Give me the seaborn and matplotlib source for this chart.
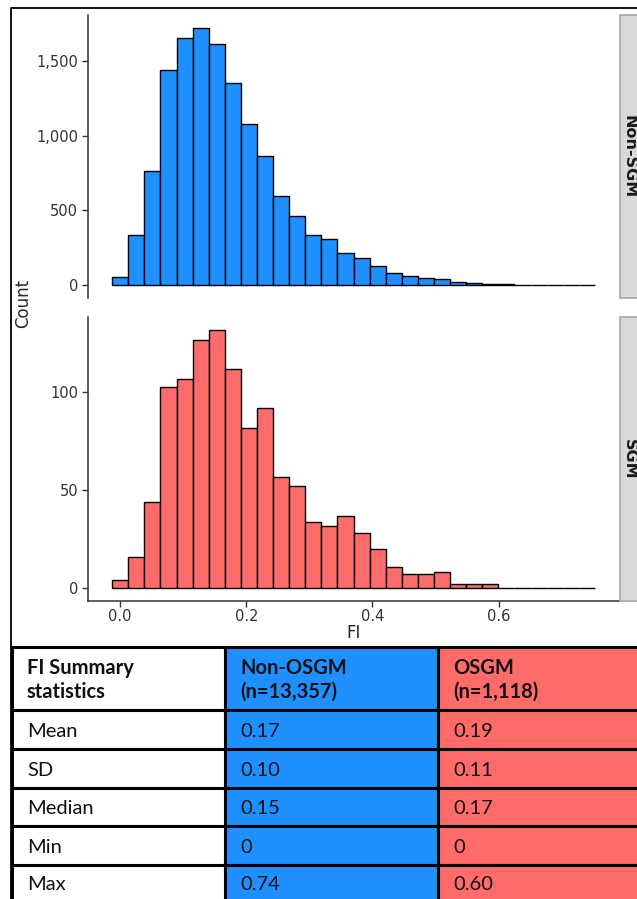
import matplotlib; matplotlib.use("Agg")
import matplotlib.pyplot as plt
from matplotlib.patches import Rectangle
import seaborn as sns
import pandas as pd
import numpy as np

# histogram counts per bin (30 bins, shared FI scale 0..0.74)
non_sgm_counts = [53, 336, 762, 1438, 1650, 1721, 1613, 1350, 1076, 862,
                  599, 462, 334, 309, 217, 179, 128, 82, 64, 51,
                  40, 18, 15, 9, 8, 4, 2, 2, 2, 1]
sgm_counts = [4, 16, 44, 103, 107, 127, 132, 112, 82, 92,
              57, 52, 34, 32, 37, 28, 20, 11, 7, 7,
              8, 2, 2, 2, 0, 0, 0, 0, 0, 0]
fi_max = 0.74
panel_labels = ["Non-SGM", "SGM"]
panel_colors = ["#1E90FF", "#FF6A6A"]
y_ticks = [[0, 500, 1000, 1500], [0, 50, 100]]
x_ticks = [0.0, 0.2, 0.4, 0.6]

# summary table
table_head = ["FI Summary\nstatistics", "Non-OSGM\n(n=13,357)", "OSGM\n(n=1,118)"]
stat_names = ["Mean", "SD", "Median", "Min", "Max"]
non_osgm_stats = ["0.17", "0.10", "0.15", "0", "0.74"]
osgm_stats = ["0.19", "0.11", "0.17", "0", "0.60"]

W, H = 637, 899
sns.set_style("white")
plt.rcParams["font.family"] = ["DejaVu Sans"]
fig = plt.figure(figsize=(W / 100, H / 100), dpi=100)

nb = len(non_sgm_counts)
bw = fi_max / (nb - 1)
centers = np.arange(nb) * bw
edges = np.append(centers - bw / 2, centers[-1] + bw / 2)

def px_axes(x0, y0, x1, y1):
    return fig.add_axes([x0 / W, 1 - y1 / H, (x1 - x0) / W, (y1 - y0) / H])

panels = [(15, 298), (317, 601)]
lo, hi = edges[0], edges[-1]
pad = (hi - lo) * 0.05
for i, counts in enumerate([non_sgm_counts, sgm_counts]):
    y0, y1 = panels[i]
    ax = px_axes(88, y0, 619, y1)
    df = pd.DataFrame({"FI": centers, "n": counts})
    sns.histplot(data=df, x="FI", weights="n", bins=edges.tolist(), color=panel_colors[i],
                 edgecolor="black", linewidth=1.0, alpha=1, ax=ax)
    m = max(counts)
    ax.set_ylim(-0.05 * m, 1.05 * m)
    ax.set_xlim(lo - pad, hi + pad)
    ax.set_yticks(y_ticks[i])
    ax.set_yticklabels([f"{v:,}" for v in y_ticks[i]], fontsize=10.5, color="#333333")
    ax.set_ylabel(""); ax.set_xlabel("")
    for s in ["top", "right"]:
        ax.spines[s].set_visible(False)
    ax.spines["left"].set_color("#333333")
    ax.spines["left"].set_linewidth(1.1)
    ax.tick_params(axis="y", length=4, width=1, color="#333333", left=True, pad=3)
    if i == 0:
        ax.spines["bottom"].set_visible(False)
        ax.set_xticks([])
    else:
        ax.spines["bottom"].set_color("#333333")
        ax.spines["bottom"].set_linewidth(1.1)
        ax.set_xticks(x_ticks)
        ax.set_xticklabels([f"{v:.1f}" for v in x_ticks], fontsize=10.5, color="#333333")
        ax.tick_params(axis="x", length=4, width=1, color="#333333", bottom=True, pad=2)
        ax.set_xlabel("FI", fontsize=12, labelpad=0)
    # facet strip on the right
    strip = Rectangle(((620) / W, 1 - y1 / H), 25 / W, (y1 - y0) / H,
                      transform=fig.transFigure, facecolor="#D9D9D9",
                      edgecolor="#A6A6A6", linewidth=1.2, clip_on=False)
    fig.add_artist(strip)
    fig.text(629.5 / W, 1 - (y0 + y1) / 2 / H, panel_labels[i], rotation=-90,
             ha="center", va="center", fontsize=11.5, fontweight="bold", color="#1a1a1a")

fig.text(23 / W, 1 - 303 / H, "Count", rotation=90, ha="center", va="center", fontsize=12)

# frame and table drawn in pixel space
tab = fig.add_axes([0, 0, 1, 1], facecolor="none")
tab.set_xlim(0, W); tab.set_ylim(H, 0); tab.axis("off")
tab.plot([11, 11, W + 5], [H + 5, 8, 8], color="black", lw=1.3, clip_on=False)

col_x = [12, 225, 438, W + 10]
row_y = [647, 710, 749, 788, 826, 865, H + 10]
fills = ["white", panel_colors[0], panel_colors[1]]
cols = [[table_head[0]] + stat_names, [table_head[1]] + non_osgm_stats,
        [table_head[2]] + osgm_stats]
for c in range(3):
    for r in range(len(row_y) - 1):
        tab.add_patch(Rectangle((col_x[c], row_y[r]), col_x[c + 1] - col_x[c],
                                row_y[r + 1] - row_y[r], facecolor=fills[c],
                                edgecolor="black", linewidth=2.2, clip_on=True))
        ty = (row_y[r] + row_y[r + 1]) / 2 + (1 if r == 0 else 2)
        if r == len(row_y) - 2:
            ty = row_y[r] + 19
        tab.text(col_x[c] + 15, ty, cols[c][r], ha="left", va="center",
                 family=["Lato", "DejaVu Sans"], fontsize=14.5,
                 fontweight="bold" if r == 0 else "normal",
                 linespacing=1.25, color="#111111")

fig.savefig("out.png", dpi=100)
